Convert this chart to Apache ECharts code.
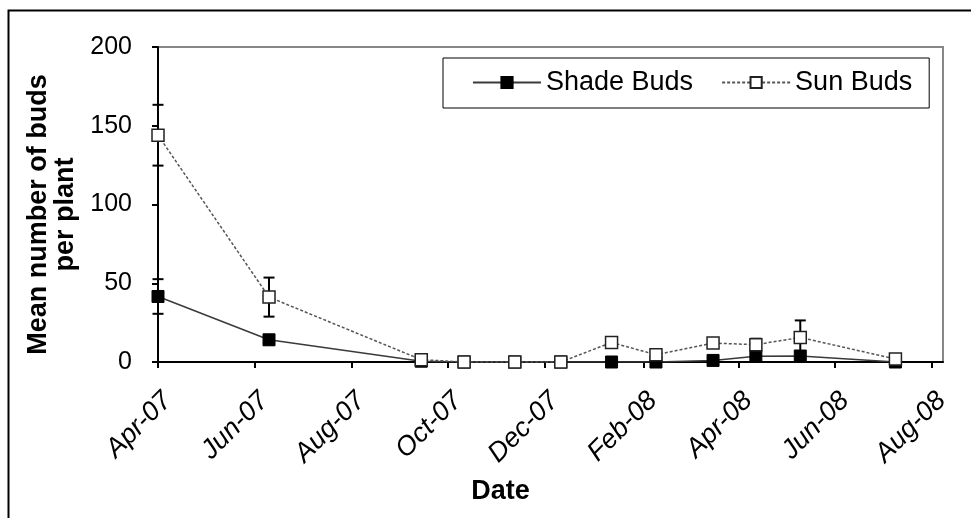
<!DOCTYPE html>
<html>
<head>
<meta charset="utf-8">
<script src="https://cdn.jsdelivr.net/npm/echarts@6/dist/echarts.min.js"></script>
<style>
html,body{margin:0;padding:0;background:#fff;}
#chart{width:971px;height:518px;}
</style>
</head>
<body>
<div id="chart"></div>
<script>
// ---- data ----
const dates = ['2007-04-01','2007-06-10','2007-09-14','2007-10-11','2007-11-12','2007-12-11',
               '2008-01-12','2008-02-09','2008-03-16','2008-04-12','2008-05-10','2008-07-09'];
const shadeBuds = [41.6, 14.1, 0.5, 0, 0, 0, 0, 0, 1, 3.6, 3.8, 0];
const shadeErr  = [11, 3, 0.5, 0, 0, 0, 0.5, 0.5, 0.8, 3, 2, 0];
const sunBuds   = [144, 41.2, 1.5, 0, 0, 0, 12.4, 4.6, 12, 11, 15.6, 1.9];
const sunErr    = [19.3, 12.4, 1, 0, 0, 0, 2, 1, 2, 3.8, 10.8, 1];
const tickDates = ['2007-04-01','2007-06-01','2007-08-01','2007-10-01','2007-12-01',
                   '2008-02-01','2008-04-01','2008-06-01','2008-08-01'];
const tickLabels = ['Apr-07','Jun-07','Aug-07','Oct-07','Dec-07','Feb-08','Apr-08','Jun-08','Aug-08'];
const axisMinDate = '2007-04-01';
const axisMaxDate = '2008-08-08';
const yMin = 0, yMax = 200, yStep = 50;
const seriesNames = ['Shade Buds', 'Sun Buds'];
const xTitle = 'Date';
const yTitle = 'Mean number of buds\nper plant';

function toTime(s) {
  const p = s.split('-').map(Number);
  return Date.UTC(p[0], p[1] - 1, p[2]);
}
const xs = dates.map(toTime);
const tickTimes = tickDates.map(toTime);

const FONT = "'Liberation Sans', Arial, sans-serif";

function errData(vals, errs) {
  return xs.map((x, i) => [x, vals[i] - errs[i], vals[i] + errs[i]]);
}
function errRender(params, api) {
  const x = api.value(0);
  const lo = api.coord([x, api.value(1)]);
  const hi = api.coord([x, api.value(2)]);
  if (Math.abs(hi[1] - lo[1]) < 1) return null;
  const hw = 5.5;
  const style = { stroke: '#000', lineWidth: 2 };
  return {
    type: 'group',
    children: [
      { type: 'line', shape: { x1: hi[0], y1: hi[1], x2: lo[0], y2: lo[1] }, style },
      { type: 'line', shape: { x1: hi[0] - hw, y1: hi[1], x2: hi[0] + hw, y2: hi[1] }, style },
      { type: 'line', shape: { x1: lo[0] - hw, y1: lo[1], x2: lo[0] + hw, y2: lo[1] }, style }
    ]
  };
}

const chart = echarts.init(document.getElementById('chart'), null, { renderer: 'canvas' });
chart.setOption({
  animation: false,
  backgroundColor: '#fff',
  textStyle: { fontFamily: FONT },
  graphic: [{
    type: 'rect', left: 6, top: 8, silent: true, z: 100,
    shape: { width: 1000, height: 600 },
    style: { fill: 'none', stroke: '#000', lineWidth: 2 }
  }],
  grid: {
    left: 158, right: 28, top: 47, bottom: 156,
    show: true, borderColor: '#878787', borderWidth: 2, backgroundColor: '#fff'
  },
  legend: {
    data: seriesNames,
    left: 443, top: 58,
    orient: 'horizontal',
    padding: [11, 17, 12, 29],
    itemGap: 28,
    itemWidth: 68,
    itemHeight: 14,
    borderColor: '#000', borderWidth: 1,
    textStyle: { fontFamily: FONT, fontSize: 27, color: '#000' }
  },
  xAxis: {
    type: 'value',
    min: toTime(axisMinDate),
    max: toTime(axisMaxDate),
    name: xTitle,
    nameLocation: 'middle',
    nameGap: 116,
    nameTextStyle: { fontFamily: FONT, fontSize: 27, fontWeight: 'bold', color: '#000', padding: [0, 100, 0, 0] },
    axisLine: { show: true, lineStyle: { color: '#000', width: 2 } },
    axisTick: { show: true, customValues: tickTimes, length: 6, inside: false, lineStyle: { color: '#000', width: 2 } },
    axisLabel: {
      customValues: tickTimes,
      rotate: 45,
      align: 'right',
      verticalAlign: 'top',
      margin: 25,
      fontFamily: FONT, fontSize: 27, fontStyle: 'italic', color: '#000',
      formatter: function (v) {
        const i = tickTimes.indexOf(v);
        return i >= 0 ? tickLabels[i] : '';
      }
    },
    splitLine: { show: false }
  },
  yAxis: {
    type: 'value',
    min: yMin, max: yMax, interval: yStep,
    name: yTitle,
    nameLocation: 'middle',
    nameGap: 70,
    nameTextStyle: { fontFamily: FONT, fontSize: 27, fontWeight: 'bold', color: '#000', lineHeight: 27, padding: [0, 20, 0, 0] },
    axisLine: { show: true, lineStyle: { color: '#000', width: 2 } },
    axisTick: { show: true, length: 6, lineStyle: { color: '#000', width: 2 } },
    axisLabel: { margin: 26, fontFamily: FONT, fontSize: 25, color: '#000' },
    splitLine: { show: false }
  },
  series: [
    {
      name: 'Shade Buds err', type: 'custom', renderItem: errRender,
      data: errData(shadeBuds, shadeErr), encode: { x: 0, y: [1, 2] }, z: 3, silent: true
    },
    {
      name: seriesNames[0], type: 'line',
      data: xs.map((x, i) => [x, shadeBuds[i]]),
      symbol: 'rect', symbolSize: 12, showSymbol: true,
      itemStyle: { color: '#000', borderColor: '#000', borderWidth: 1 },
      lineStyle: { color: '#3a3a3a', width: 1.5, type: 'solid' },
      z: 4
    },
    {
      name: 'Sun Buds err', type: 'custom', renderItem: errRender,
      data: errData(sunBuds, sunErr), encode: { x: 0, y: [1, 2] }, z: 5, silent: true
    },
    {
      name: seriesNames[1], type: 'line',
      data: xs.map((x, i) => [x, sunBuds[i]]),
      symbol: 'rect', symbolSize: 12, showSymbol: true,
      itemStyle: { color: '#fff', borderColor: '#222', borderWidth: 1.5 },
      lineStyle: { color: '#555', width: 1.5, type: [3, 2] },
      z: 6
    }
  ]
});
</script>
</body>
</html>
